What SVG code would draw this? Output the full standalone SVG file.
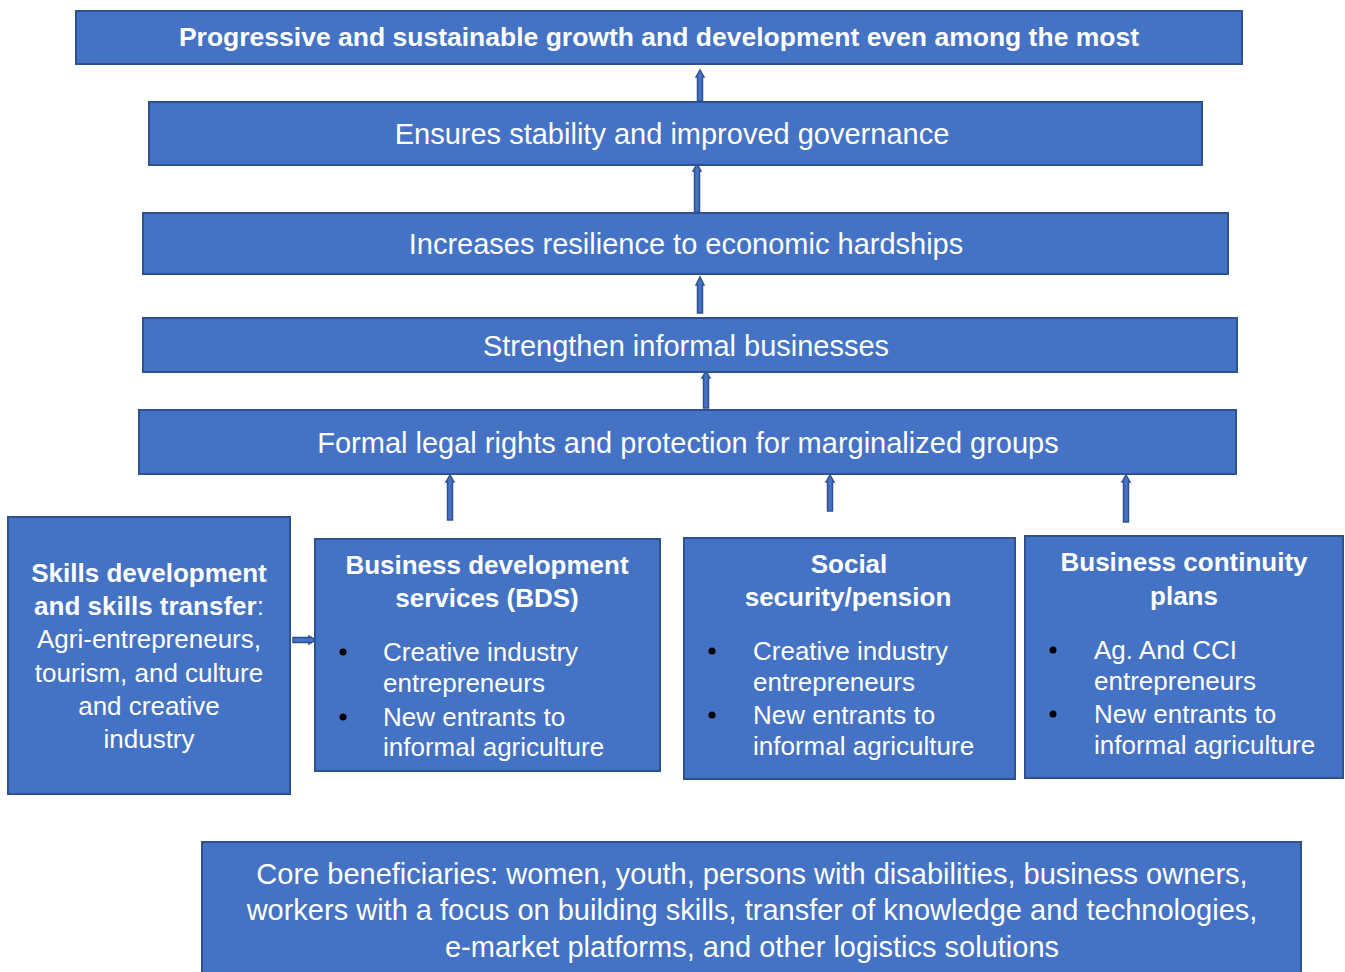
<svg xmlns="http://www.w3.org/2000/svg" width="1345" height="972" viewBox="0 0 1345 972">
  <style>
    .box { fill: #4472C4; stroke: #2F528F; stroke-width: 2; }
    .arrow { fill: #4472C4; stroke: #2F528F; stroke-width: 1.5; }
    text { font-family: "Liberation Sans", Arial, sans-serif; fill: #FFFFFF; dominant-baseline: central; }
    .c { text-anchor: middle; }
    .t { font-size: 29px; }
    .h { font-size: 26px; font-weight: bold; }
    .b { font-size: 26px; }
    .dot { fill: #000000; }
  </style>
  <rect width="1345" height="972" fill="#FFFFFF"/>

  <!-- connectors: block arrows pointing upward -->
  <g id="connectors">
    <path class="arrow" d="M697.5,101 V77 H696 L700,70 L704,77 H702.5 V101 Z"/>
    <path class="arrow" d="M694.5,212 V171 H693 L697,164 L701,171 H699.5 V212 Z"/>
    <path class="arrow" d="M697.5,313 V285 H696 L700,277 L704,285 H702.5 V313 Z"/>
    <path class="arrow" d="M703.5,408 V378 H702 L706,371 L710,378 H708.5 V408 Z"/>
    <path class="arrow" d="M447.5,520 V482 H446 L450,475 L454,482 H452.5 V520 Z"/>
    <path class="arrow" d="M827.5,511 V482 H826 L830,475 L834,482 H832.5 V511 Z"/>
    <path class="arrow" d="M1123.5,522 V482 H1122 L1126,475 L1130,482 H1128.5 V522 Z"/>
    <path class="arrow" d="M293,637.5 H309 V636 L316,640 L309,644 V642.5 H293 Z"/>
  </g>

  <g id="goal">
    <rect class="box" x="76" y="11" width="1166" height="53"/>
    <text class="c h" x="659" y="37" style="font-size:26.5px">Progressive and sustainable growth and development even among the most</text>
  </g>

  <g id="stability">
    <rect class="box" x="149" y="102" width="1053" height="63"/>
    <text class="c t" x="672" y="134">Ensures stability and improved governance</text>
  </g>

  <g id="resilience">
    <rect class="box" x="143" y="213" width="1085" height="61"/>
    <text class="c t" x="686" y="244">Increases resilience to economic hardships</text>
  </g>

  <g id="strengthen">
    <rect class="box" x="143" y="318" width="1094" height="54"/>
    <text class="c t" x="686" y="346">Strengthen informal businesses</text>
  </g>

  <g id="rights">
    <rect class="box" x="139" y="410" width="1097" height="64"/>
    <text class="c t" x="688" y="443">Formal legal rights and protection for marginalized groups</text>
  </g>

  <g id="skills">
    <rect class="box" x="8" y="517" width="282" height="277"/>
    <text class="c h" x="149" y="573">Skills development</text>
    <text class="c" x="149" y="606"><tspan class="h">and skills transfer</tspan><tspan class="b">:</tspan></text>
    <text class="c b" x="149" y="639">Agri-entrepreneurs,</text>
    <text class="c b" x="149" y="673">tourism, and culture</text>
    <text class="c b" x="149" y="706">and creative</text>
    <text class="c b" x="149" y="739">industry</text>
  </g>

  <g id="bds">
    <rect class="box" x="315" y="539" width="345" height="232"/>
    <text class="c h" x="487" y="565">Business development</text>
    <text class="c h" x="487" y="598">services (BDS)</text>
    <circle class="dot" cx="343" cy="652" r="3.5"/>
    <text class="b" x="383" y="652">Creative industry</text>
    <text class="b" x="383" y="683">entrepreneurs</text>
    <circle class="dot" cx="343" cy="717" r="3.5"/>
    <text class="b" x="383" y="717">New entrants to</text>
    <text class="b" x="383" y="747">informal agriculture</text>
  </g>

  <g id="social">
    <rect class="box" x="684" y="538" width="331" height="241"/>
    <text class="c h" x="849" y="564">Social</text>
    <text class="c h" x="848" y="597">security/pension</text>
    <circle class="dot" cx="712" cy="651" r="3.5"/>
    <text class="b" x="753" y="651">Creative industry</text>
    <text class="b" x="753" y="682">entrepreneurs</text>
    <circle class="dot" cx="712" cy="715" r="3.5"/>
    <text class="b" x="753" y="715">New entrants to</text>
    <text class="b" x="753" y="746">informal agriculture</text>
  </g>

  <g id="continuity">
    <rect class="box" x="1025" y="536" width="318" height="242"/>
    <text class="c h" x="1184" y="562">Business continuity</text>
    <text class="c h" x="1184" y="596">plans</text>
    <circle class="dot" cx="1053" cy="650" r="3.5"/>
    <text class="b" x="1094" y="650">Ag. And CCI</text>
    <text class="b" x="1094" y="681">entrepreneurs</text>
    <circle class="dot" cx="1053" cy="714" r="3.5"/>
    <text class="b" x="1094" y="714">New entrants to</text>
    <text class="b" x="1094" y="745">informal agriculture</text>
  </g>

  <g id="beneficiaries">
    <rect class="box" x="202" y="842" width="1099" height="140"/>
    <text class="c" x="752" y="874" style="font-size:29px">Core beneficiaries: women, youth, persons with disabilities, business owners,</text>
    <text class="c" x="752" y="910" style="font-size:29px">workers with a focus on building skills, transfer of knowledge and technologies,</text>
    <text class="c" x="752" y="947" style="font-size:29px">e-market platforms, and other logistics solutions</text>
  </g>
</svg>
